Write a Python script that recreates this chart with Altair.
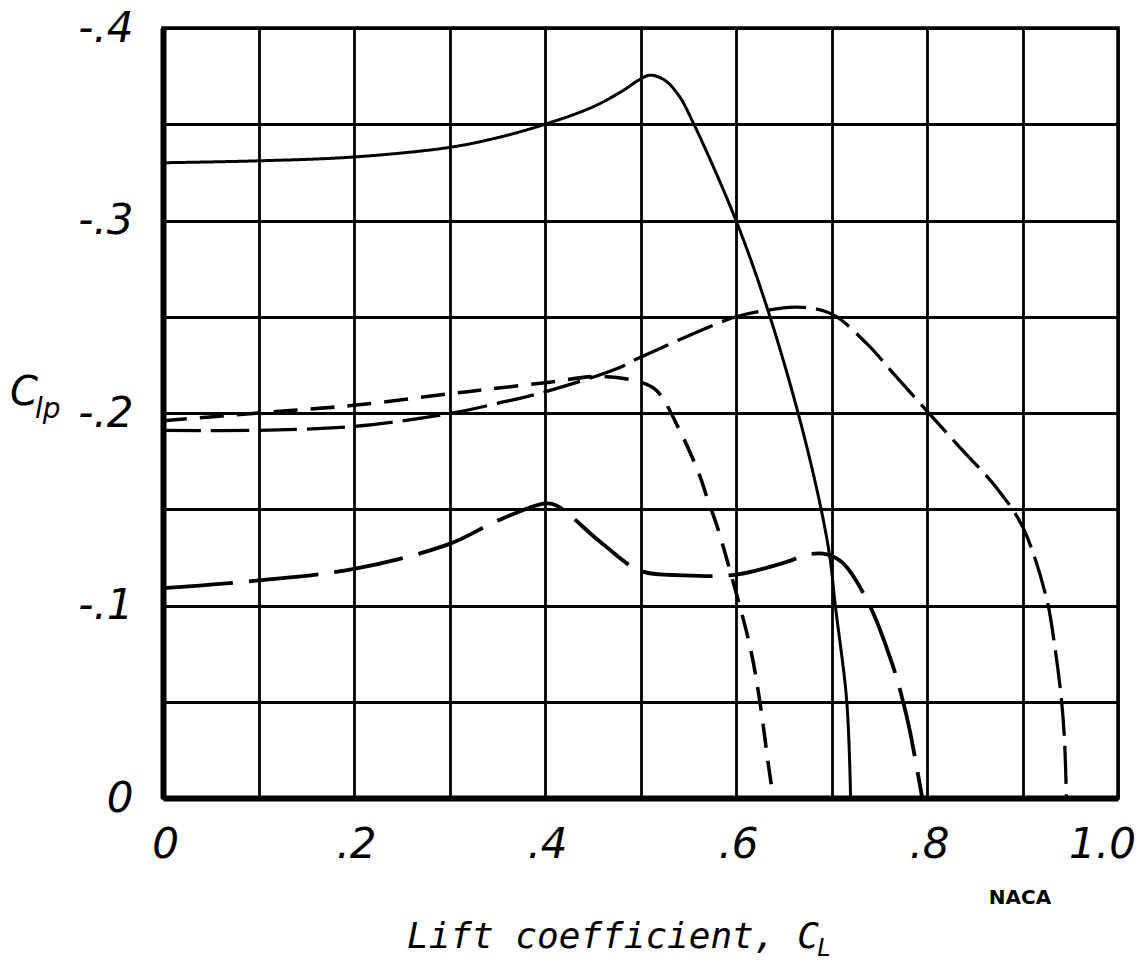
import altair as alt
import pandas as pd

# Curve A (solid)
a_x = [0, 0.1, 0.2, 0.3, 0.35, 0.4, 0.45, 0.48, 0.5, 0.51, 0.525, 0.54, 0.555, 0.6, 0.633, 0.665, 0.687, 0.698, 0.704, 0.716, 0.72]
a_y = [-0.330, -0.331, -0.333, -0.338, -0.343, -0.350, -0.359, -0.367, -0.3735, -0.3755, -0.373, -0.365, -0.351, -0.300, -0.254, -0.200, -0.155, -0.126, -0.100, -0.050, 0.0]

# Curve B (long dash, upper)
b_x = [0, 0.1, 0.2, 0.3, 0.35, 0.4, 0.475, 0.5, 0.583, 0.6, 0.628, 0.664, 0.7, 0.737, 0.764, 0.8, 0.831, 0.873, 0.9, 0.925, 0.934, 0.941, 0.944, 0.946]
b_y = [-0.191, -0.191, -0.193, -0.1997, -0.205, -0.211, -0.223, -0.229, -0.247, -0.250, -0.253, -0.255, -0.2515, -0.236, -0.221, -0.201, -0.184, -0.161, -0.141, -0.104, -0.078, -0.050, -0.030, 0.0]

# Curve C (short dash)
c_x = [0, 0.1, 0.2, 0.3, 0.335, 0.405, 0.457, 0.5, 0.517, 0.541, 0.562, 0.57, 0.581, 0.596, 0.615, 0.625, 0.634, 0.639]
c_y = [-0.196, -0.200, -0.204, -0.210, -0.212, -0.216, -0.219, -0.216, -0.2116, -0.191, -0.1675, -0.1556, -0.140, -0.114, -0.078, -0.050, -0.017, 0.0]

# Curve D (long dash, lower)
d_x = [0, 0.1, 0.2, 0.3, 0.35, 0.4, 0.412, 0.458, 0.5, 0.545, 0.6, 0.649, 0.677, 0.695, 0.712, 0.74, 0.764, 0.775, 0.782, 0.795]
d_y = [-0.109, -0.113, -0.119, -0.132, -0.144, -0.153, -0.152, -0.133, -0.118, -0.1157, -0.116, -0.122, -0.1266, -0.1266, -0.122, -0.100, -0.069, -0.050, -0.035, 0.0]

x_grid = [round(i * 0.1, 2) for i in range(11)]
y_grid = [round(-i * 0.05, 3) for i in range(9)]

series_names = ["A", "B", "C", "D"]
series_x = [a_x, b_x, c_x, d_x]
series_y = [a_y, b_y, c_y, d_y]

rows = []
for name, xs, ys in zip(series_names, series_x, series_y):
    for k, (xv, yv) in enumerate(zip(xs, ys)):
        rows.append({"series": name, "CL": xv, "Clp": yv, "order": k})
df = pd.DataFrame(rows)

xscale = alt.Scale(domain=[0, 1.0], nice=False, zero=False)
yscale = alt.Scale(domain=[-0.4, 0], reverse=True, nice=False, zero=False)

xaxis = alt.Axis(
    values=x_grid, title=None, grid=True, gridColor="black", gridWidth=2.8, gridOpacity=1,
    domain=True, domainColor="black", domainWidth=6, ticks=False, tickSize=0,
    labelExpr="abs(datum.value*5 - round(datum.value*5)) < 0.01 ? (datum.value == 0 ? '0' : (datum.value > 0.99 ? '1.0' : '.' + round(datum.value*10))) : ''",
    labelFont="DejaVu Sans", labelFontStyle="italic", labelFontSize=42, labelColor="black",
    labelPadding=46, labelBaseline="middle", labelOverlap=False, labelFlush=False,
    labelOffset={"condition": {"test": "datum.value > 0.99", "value": -16}, "value": 2},
)
yaxis = alt.Axis(
    values=y_grid, title=None, grid=True, gridColor="black", gridWidth=2.8, gridOpacity=1,
    domain=True, domainColor="black", domainWidth=6, ticks=False, tickSize=0,
    labelExpr="abs(datum.value*10 - round(datum.value*10)) < 0.01 ? (datum.value == 0 ? '0' : '-.' + round(-datum.value*10)) : ''",
    labelFont="DejaVu Sans", labelFontStyle="italic", labelFontSize=42, labelColor="black",
    labelPadding=30, labelAlign="right", labelBaseline="middle", labelOverlap=False, labelFlush=False,
)

lines = alt.Chart(df).mark_line(color="black", interpolate="catmull-rom", strokeCap="butt").encode(
    x=alt.X("CL:Q", scale=xscale, axis=xaxis),
    y=alt.Y("Clp:Q", scale=yscale, axis=yaxis),
    detail="series:N",
    order="order:Q",
    strokeDash=alt.StrokeDash("series:N", legend=None,
                              scale=alt.Scale(domain=series_names,
                                              range=[[1, 0], [38, 10], [24, 13], [70, 16]])),
    strokeWidth=alt.StrokeWidth("series:N", legend=None,
                                scale=alt.Scale(domain=series_names, range=[3.0, 3.8, 3.2, 3.8])),
)

def label(text, x, y, size, font="DejaVu Sans", style="italic", weight="normal", align="left"):
    return alt.Chart(pd.DataFrame({"t": [text]})).mark_text(
        font=font, fontStyle=style, fontWeight=weight, fontSize=size, color="black",
        align=align, baseline="alphabetic").encode(
        text="t:N", x=alt.value(x), y=alt.value(y))

layers = [lines,
          label("Lift coefficient, C", 244, 920, 36, font="DejaVu Sans Mono"),
          label("L", 654, 928, 24, font="DejaVu Sans Mono"),
          label("C", -153, 377, 40),
          label("lp", -128, 390, 28),
          label("NACA", 857, 876, 20, style="normal", weight="bold", align="center")]

chart = alt.layer(*layers).properties(
    width=955, height=770,
    autosize=alt.AutoSizeParams(type="none"),
    padding={"left": 163, "top": 28, "right": 25, "bottom": 168},
    background="white",
).configure_view(stroke="black", strokeWidth=3.5)

chart.save("out.html", embed_options={"renderer": "svg", "actions": False})
